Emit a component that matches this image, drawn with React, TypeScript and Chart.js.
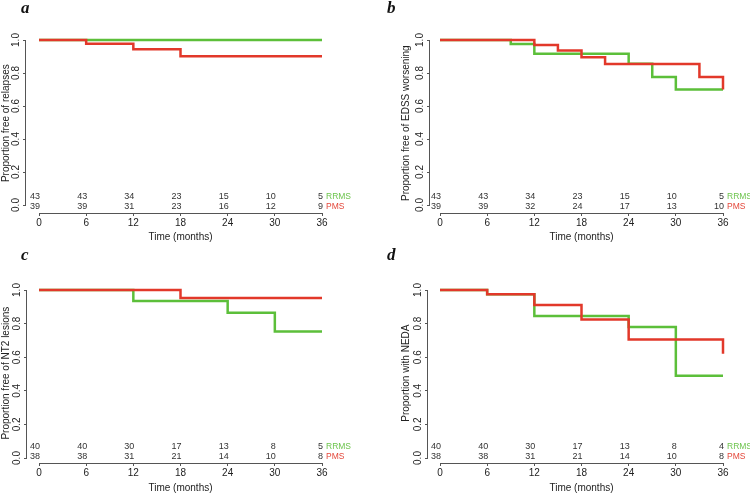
import React, { useEffect, useRef } from 'react';
import { Chart, registerables } from 'chart.js';

Chart.register(...registerables);

// ---------- shared axis data ----------
const monthTicks = [0, 6, 12, 18, 24, 30, 36];
const monthTickLabels = ['0', '6', '12', '18', '24', '30', '36'];
const proportionTicks = [0, 0.2, 0.4, 0.6, 0.8, 1.0];
const proportionTickLabels = ['0.0', '0.2', '0.4', '0.6', '0.8', '1.0'];
const groupNames = ['RRMS', 'PMS'];

// ---------- panel a: relapses ----------
const relapseRRMSTime = [0, 36];
const relapseRRMSSurv = [1, 1];
const relapsePMSTime = [0, 6, 12, 18, 36];
const relapsePMSSurv = [1, 0.977, 0.944, 0.902, 0.902];
const relapseRRMSRisk = [43, 43, 34, 23, 15, 10, 5];
const relapsePMSRisk = [39, 39, 31, 23, 16, 12, 9];

// ---------- panel b: EDSS worsening ----------
const edssRRMSTime = [0, 9, 12, 24, 27, 30, 36];
const edssRRMSSurv = [1, 0.976, 0.916, 0.856, 0.776, 0.7, 0.7];
const edssPMSTime = [0, 12, 15, 18, 21, 33, 36];
const edssPMSSurv = [1, 0.97, 0.936, 0.896, 0.855, 0.776, 0.7];
const edssRRMSRisk = [43, 43, 34, 23, 15, 10, 5];
const edssPMSRisk = [39, 39, 32, 24, 17, 13, 10];

// ---------- panel c: NT2 lesions ----------
const nt2RRMSTime = [0, 12, 24, 30, 36];
const nt2RRMSSurv = [1, 0.934, 0.864, 0.753, 0.753];
const nt2PMSTime = [0, 18, 36];
const nt2PMSSurv = [1, 0.952, 0.952];
const nt2RRMSRisk = [40, 40, 30, 17, 13, 8, 5];
const nt2PMSRisk = [38, 38, 31, 21, 14, 10, 8];

// ---------- panel d: NEDA ----------
const nedaRRMSTime = [0, 6, 12, 24, 30, 36];
const nedaRRMSSurv = [1, 0.975, 0.845, 0.78, 0.49, 0.49];
const nedaPMSTime = [0, 6, 12, 18, 24, 36];
const nedaPMSSurv = [1, 0.974, 0.91, 0.825, 0.705, 0.62];
const nedaRRMSRisk = [40, 40, 30, 17, 13, 8, 4];
const nedaPMSRisk = [38, 38, 31, 21, 14, 10, 8];

// ---------- styling ----------
const GREEN = '#5cbf3a';
const RED = '#e2382a';
const LABEL_GREEN = '#6cc44c';
const LABEL_RED = '#e4473a';
const AXIS = '#555555';
const TEXT = '#222222';
const FONT = '"Liberation Sans", Arial, sans-serif';

type PanelLayout = {
  left: number; top: number; width: number; height: number;
  axisX: number; x0: number; x36: number;
  y1: number; y0: number; axisY: number;
  yTitleX: number; xTitleY: number;
};

const kmDecor = {
  id: 'kmDecor',
  afterDraw(chart: any, _args: any, opts: any) {
    const { ctx, chartArea } = chart;
    const xs = chart.scales.x;
    const ys = chart.scales.y;
    ctx.save();
    ctx.strokeStyle = AXIS;
    ctx.lineWidth = 1;
    // x axis line from first to last tick
    const xa = xs.getPixelForValue(monthTicks[0]);
    const xb = xs.getPixelForValue(monthTicks[monthTicks.length - 1]);
    const yb = Math.round(chartArea.bottom) + 0.5;
    ctx.beginPath();
    ctx.moveTo(xa, yb);
    ctx.lineTo(xb, yb);
    ctx.stroke();
    // y axis line from 0 to 1
    const yBot = ys.getPixelForValue(proportionTicks[0]);
    const yTop = ys.getPixelForValue(proportionTicks[proportionTicks.length - 1]);
    const xl = Math.round(chartArea.left) - 0.5;
    ctx.beginPath();
    ctx.moveTo(xl, yBot);
    ctx.lineTo(xl, yTop);
    ctx.stroke();
    // number at risk table
    const rows: number[][] = opts.risk;
    const colors = [LABEL_GREEN, LABEL_RED];
    rows.forEach((row, r) => {
      const yy = chartArea.bottom - 16 + r * 10;
      ctx.font = `9px ${FONT}`;
      ctx.textAlign = 'right';
      ctx.textBaseline = 'middle';
      ctx.fillStyle = '#333333';
      row.forEach((n, i) => {
        ctx.fillText(String(n), xs.getPixelForValue(monthTicks[i]) + 1, yy);
      });
      ctx.font = `8.5px ${FONT}`;
      ctx.textAlign = 'left';
      ctx.fillStyle = colors[r];
      ctx.fillText(groupNames[r], xs.getPixelForValue(monthTicks[monthTicks.length - 1]) + 4, yy);
    });
    ctx.restore();
  },
};

type PanelProps = {
  layout: PanelLayout;
  letter: string;
  yTitle: string;
  rrmsTime: number[]; rrmsSurv: number[];
  pmsTime: number[]; pmsSurv: number[];
  rrmsRisk: number[]; pmsRisk: number[];
};

function KMPanel(props: PanelProps) {
  const ref = useRef<HTMLCanvasElement>(null);
  const L = props.layout;
  useEffect(() => {
    if (!ref.current) return;
    const aX = L.axisX - L.left;
    const x0 = L.x0 - L.left;
    const x36 = L.x36 - L.left;
    const y1 = L.y1 - L.top;
    const y0 = L.y0 - L.top;
    const aY = L.axisY - L.top;
    const ppm = (x36 - x0) / 36;
    const xExt = (x0 - aX) / ppm;
    const ppu = y0 - y1;
    const yMin = -(aY - y0) / ppu;
    const yMax = 1.04;
    const top = y1 - 0.04 * ppu;
    const right = x36 + (x0 - aX);
    const padL = Math.max(0, L.yTitleX - L.left - 6);
    const wy = aX - padL;
    const bottomX = L.xTitleY - L.top + 6;
    const hx = bottomX - aY;

    const chart = new Chart(ref.current, {
      type: 'line',
      data: {
        datasets: [
          {
            label: 'PMS',
            data: props.pmsTime.map((t, i) => ({ x: t, y: props.pmsSurv[i] })),
            borderColor: RED,
            borderWidth: 2.5,
            pointRadius: 0,
            stepped: 'before',
            fill: false,
            tension: 0,
          },
          {
            label: 'RRMS',
            data: props.rrmsTime.map((t, i) => ({ x: t, y: props.rrmsSurv[i] })),
            borderColor: GREEN,
            borderWidth: 2.5,
            pointRadius: 0,
            stepped: 'before',
            fill: false,
            tension: 0,
          },
        ],
      },
      options: {
        responsive: false,
        maintainAspectRatio: false,
        animation: false,
        events: [],
        layout: {
          padding: { left: padL, top, right: L.width - right, bottom: L.height - bottomX },
        },
        plugins: {
          legend: { display: false },
          tooltip: { enabled: false },
          kmDecor: { risk: [props.rrmsRisk, props.pmsRisk] },
        } as any,
        scales: {
          x: {
            type: 'linear',
            min: -xExt,
            max: 36 + xExt,
            border: { display: false },
            grid: { display: true, drawOnChartArea: false, drawTicks: true, tickLength: 3, color: AXIS },
            afterBuildTicks: (s: any) => { s.ticks = monthTicks.map((v) => ({ value: v })); },
            afterFit: (s: any) => { s.height = hx; },
            ticks: {
              autoSkip: false,
              maxRotation: 0,
              minRotation: 0,
              padding: 1,
              color: TEXT,
              font: { size: 10, family: FONT },
              callback: (_v: any, i: number) => monthTickLabels[i],
            },
            title: {
              display: true,
              text: 'Time (months)',
              color: TEXT,
              padding: 0,
              font: { size: 10, family: FONT },
            },
          },
          y: {
            type: 'linear',
            min: yMin,
            max: yMax,
            border: { display: false },
            grid: { display: true, drawOnChartArea: false, drawTicks: true, tickLength: 3, color: AXIS },
            afterBuildTicks: (s: any) => { s.ticks = proportionTicks.map((v) => ({ value: v })); },
            afterFit: (s: any) => { s.width = wy; },
            ticks: {
              autoSkip: false,
              minRotation: 90,
              maxRotation: 90,
              padding: 0,
              crossAlign: 'center',
              color: TEXT,
              font: { size: 10, family: FONT },
              callback: (_v: any, i: number) => proportionTickLabels[i],
            },
            title: {
              display: true,
              text: props.yTitle,
              color: TEXT,
              padding: 0,
              font: { size: 10, family: FONT },
            },
          },
        },
      },
      plugins: [kmDecor],
    } as any);
    return () => chart.destroy();
  }, []);

  return (
    <>
      <canvas
        ref={ref}
        width={L.width}
        height={L.height}
        style={{ position: 'absolute', left: L.left, top: L.top, width: L.width, height: L.height }}
      />
      <div
        style={{
          position: 'absolute',
          left: L.left + (L.left === 0 ? 21 : 12),
          top: L.top + (L.top === 0 ? -1.5 : 6),
          font: 'italic bold 17px "Liberation Serif", "Times New Roman", serif',
          lineHeight: '17px',
          color: '#111',
        }}
      >
        {props.letter}
      </div>
    </>
  );
}

const layoutA: PanelLayout = { left: 0, top: 0, width: 375, height: 246, axisX: 26, x0: 39, x36: 322, y1: 40, y0: 205, axisY: 213, yTitleX: 6, xTitleY: 237.3 };
const layoutB: PanelLayout = { left: 375, top: 0, width: 375, height: 246, axisX: 430, x0: 440, x36: 723, y1: 40, y0: 205, axisY: 213, yTitleX: 406.7, xTitleY: 237.3 };
const layoutC: PanelLayout = { left: 0, top: 240, width: 375, height: 260, axisX: 27, x0: 39, x36: 322, y1: 290, y0: 458, axisY: 463, yTitleX: 5.5, xTitleY: 488.3 };
const layoutD: PanelLayout = { left: 375, top: 240, width: 375, height: 260, axisX: 428, x0: 440, x36: 723, y1: 290, y0: 458, axisY: 463, yTitleX: 406, xTitleY: 488.3 };

export default function App() {
  return (
    <div style={{ position: 'absolute', left: 0, top: 0, width: 750, height: 493, overflow: 'hidden', background: '#fff' }}>
      <KMPanel layout={layoutA} letter="a" yTitle="Proportion free of relapses"
        rrmsTime={relapseRRMSTime} rrmsSurv={relapseRRMSSurv} pmsTime={relapsePMSTime} pmsSurv={relapsePMSSurv}
        rrmsRisk={relapseRRMSRisk} pmsRisk={relapsePMSRisk} />
      <KMPanel layout={layoutB} letter="b" yTitle="Proportion free of EDSS worsening"
        rrmsTime={edssRRMSTime} rrmsSurv={edssRRMSSurv} pmsTime={edssPMSTime} pmsSurv={edssPMSSurv}
        rrmsRisk={edssRRMSRisk} pmsRisk={edssPMSRisk} />
      <KMPanel layout={layoutC} letter="c" yTitle="Proportion free of NT2 lesions"
        rrmsTime={nt2RRMSTime} rrmsSurv={nt2RRMSSurv} pmsTime={nt2PMSTime} pmsSurv={nt2PMSSurv}
        rrmsRisk={nt2RRMSRisk} pmsRisk={nt2PMSRisk} />
      <KMPanel layout={layoutD} letter="d" yTitle="Proportion with NEDA"
        rrmsTime={nedaRRMSTime} rrmsSurv={nedaRRMSSurv} pmsTime={nedaPMSTime} pmsSurv={nedaPMSSurv}
        rrmsRisk={nedaRRMSRisk} pmsRisk={nedaPMSRisk} />
    </div>
  );
}
